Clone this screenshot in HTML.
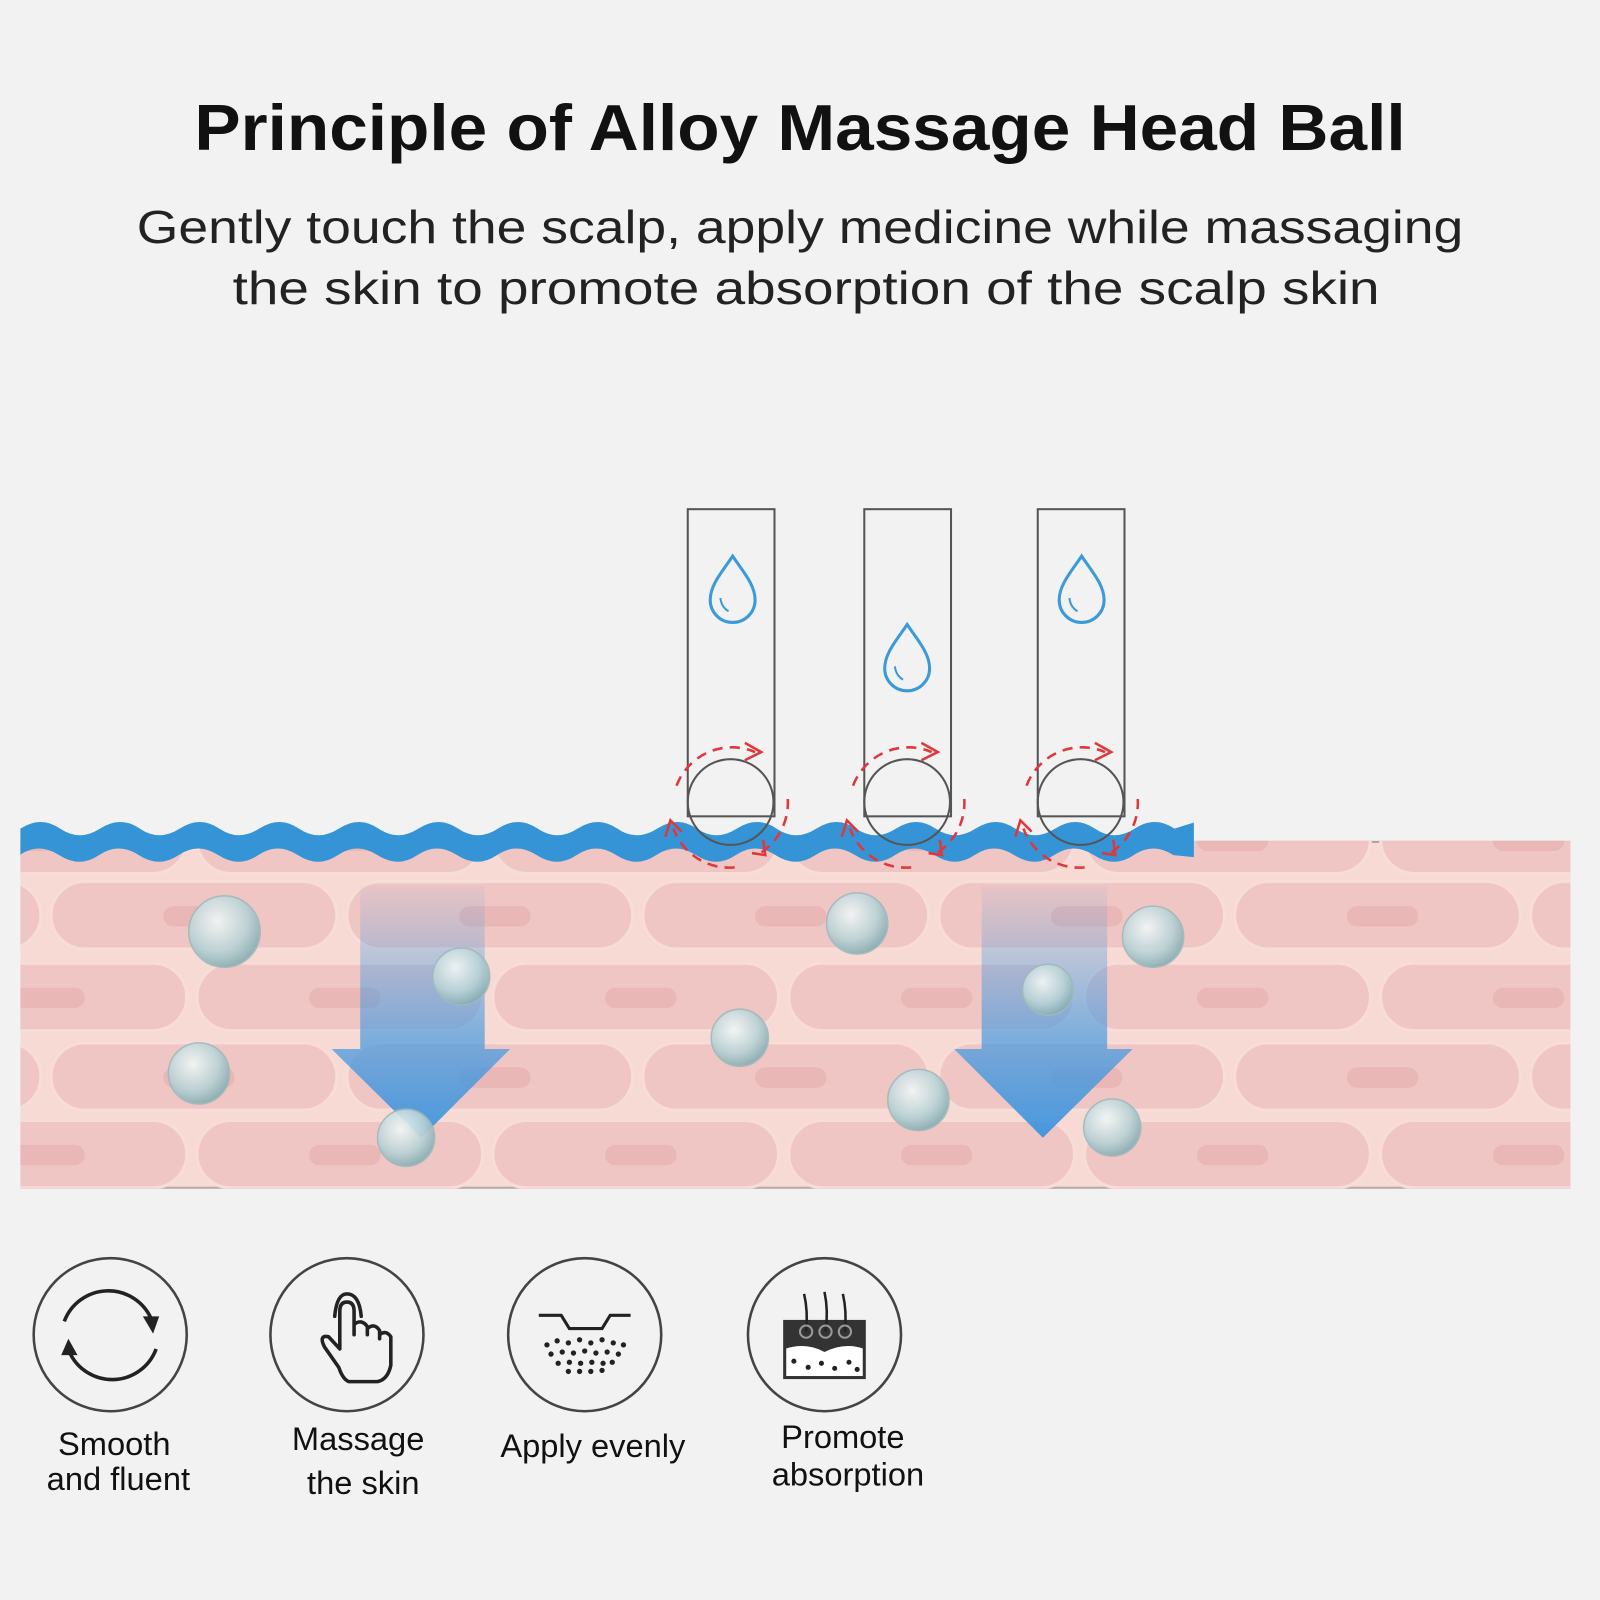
<!DOCTYPE html>
<html><head><meta charset="utf-8"><style>
html,body{margin:0;padding:0;background:#f2f2f2;}
svg{display:block}
</style></head><body>
<svg width="1600" height="1600" viewBox="0 0 1568 1568" xmlns="http://www.w3.org/2000/svg">
<defs>
<clipPath id="skin"><rect x="20" y="824" width="1519" height="341"/></clipPath>
<g id="pill">
  <rect x="0" y="0" width="280" height="66" rx="33" fill="#efc6c4" stroke="#f7dcd8" stroke-width="3"/>
  <rect x="110" y="24" width="70" height="20" rx="10" fill="#e6b1b1" opacity="0.7"/>
</g>
<linearGradient id="ag" x1="0" y1="0" x2="0" y2="1">
  <stop offset="0" stop-color="#4a9be0" stop-opacity="0.05"/>
  <stop offset="0.6" stop-color="#4a9be0" stop-opacity="0.7"/>
  <stop offset="1" stop-color="#3d94dd" stop-opacity="0.95"/>
</linearGradient>
<radialGradient id="bub" cx="0.4" cy="0.35" r="0.7">
  <stop offset="0" stop-color="#f4f8f8"/>
  <stop offset="0.6" stop-color="#b9d3d6"/>
  <stop offset="1" stop-color="#7fa7ad"/>
</radialGradient>
<g id="drop"><path d="M0,-33 C-10,-18 -22,-5 -22,10 A22,22 0 0 0 22,10 C22,-5 10,-18 0,-33 Z" fill="none" stroke="#3a9bd8" stroke-width="3"/><path d="M-12,8 Q-11,17 -4,21" fill="none" stroke="#3a9bd8" stroke-width="2"/></g>
</defs>

<rect width="1568" height="1568" fill="#f2f2f2"/>

<text x="784" y="147" text-anchor="middle" font-family="Liberation Sans, sans-serif" font-weight="bold" font-size="64" textLength="1187" lengthAdjust="spacingAndGlyphs" fill="#111">Principle of Alloy Massage Head Ball</text>
<text x="784" y="238" text-anchor="middle" font-family="Liberation Sans, sans-serif" font-size="45" textLength="1300" lengthAdjust="spacingAndGlyphs" fill="#222">Gently touch the scalp, apply medicine while massaging</text>
<text x="790" y="298" text-anchor="middle" font-family="Liberation Sans, sans-serif" font-size="45" textLength="1124" lengthAdjust="spacingAndGlyphs" fill="#222">the skin to promote absorption of the scalp skin</text>

<!-- skin -->
<rect x="20" y="824" width="1519" height="341" fill="#f6dad3"/>
<line x1="1170" y1="825" x2="1539" y2="825" stroke="#a8a0a0" stroke-width="2"/>
<line x1="20" y1="1164" x2="1539" y2="1164" stroke="#b8aaaa" stroke-width="2"/>
<g clip-path="url(#skin)">
  <g transform="translate(0,790)"><use href="#pill" x="-97"/><use href="#pill" x="193"/><use href="#pill" x="483"/><use href="#pill" x="773"/><use href="#pill" x="1063"/><use href="#pill" x="1353"/></g>
  <g transform="translate(0,864)"><use href="#pill" x="-240"/><use href="#pill" x="50"/><use href="#pill" x="340"/><use href="#pill" x="630"/><use href="#pill" x="920"/><use href="#pill" x="1210"/><use href="#pill" x="1500"/></g>
  <g transform="translate(0,944)"><use href="#pill" x="-97"/><use href="#pill" x="193"/><use href="#pill" x="483"/><use href="#pill" x="773"/><use href="#pill" x="1063"/><use href="#pill" x="1353"/></g>
  <g transform="translate(0,1022)"><use href="#pill" x="-240"/><use href="#pill" x="50"/><use href="#pill" x="340"/><use href="#pill" x="630"/><use href="#pill" x="920"/><use href="#pill" x="1210"/><use href="#pill" x="1500"/></g>
  <g transform="translate(0,1098)"><use href="#pill" x="-97"/><use href="#pill" x="193"/><use href="#pill" x="483"/><use href="#pill" x="773"/><use href="#pill" x="1063"/><use href="#pill" x="1353"/></g>
</g>

<!-- blue wave -->
<path d="M20,812 q20,-13 39,0 t39,0 t39,0 t39,0 t39,0 t39,0 t39,0 t39,0 t39,0 t39,0 t39,0 t39,0 t39,0 t39,0 t39,0 t39,0 t39,0 t39,0 t39,0 t39,0 t39,0 t39,0 t39,0 t39,0 t39,0 t39,0 t39,0 t39,0 t39,0 L1170,806 L1170,840 L1150,838 q-20,-13 -39,0 t-39,0 t-39,0 t-39,0 t-39,0 t-39,0 t-39,0 t-39,0 t-39,0 t-39,0 t-39,0 t-39,0 t-39,0 t-39,0 t-39,0 t-39,0 t-39,0 t-39,0 t-39,0 t-39,0 t-39,0 t-39,0 t-39,0 t-39,0 t-39,0 t-39,0 t-39,0 t-39,0 t-39,0 L20,838 Z" fill="#3594d6"/>

<!-- arrows -->
<path d="M353,868 L475,868 L475,1028 L500,1028 L413,1115 L325,1028 L353,1028 Z" fill="url(#ag)"/>
<path d="M962,868 L1085,868 L1085,1028 L1110,1028 L1022,1115 L935,1028 L962,1028 Z" fill="url(#ag)"/>

<!-- bubbles -->
<g stroke="#9fb9bc" stroke-width="1.5" opacity="0.9">
<circle cx="220" cy="913" r="35" fill="url(#bub)"/>
<circle cx="452" cy="957" r="28" fill="url(#bub)"/>
<circle cx="195" cy="1052" r="30" fill="url(#bub)"/>
<circle cx="398" cy="1115" r="28" fill="url(#bub)"/>
<circle cx="840" cy="905" r="30" fill="url(#bub)"/>
<circle cx="725" cy="1017" r="28" fill="url(#bub)"/>
<circle cx="900" cy="1078" r="30" fill="url(#bub)"/>
<circle cx="1027" cy="970" r="25" fill="url(#bub)"/>
<circle cx="1130" cy="918" r="30" fill="url(#bub)"/>
<circle cx="1090" cy="1105" r="28" fill="url(#bub)"/>
</g>

<!-- massage heads -->
<g fill="none" stroke="#555" stroke-width="2">
<rect x="674" y="499" width="85" height="301"/>
<rect x="847" y="499" width="85" height="301"/>
<rect x="1017" y="499" width="85" height="301"/>
<circle cx="716" cy="786" r="42"/>
<circle cx="889" cy="786" r="42"/>
<circle cx="1059" cy="786" r="42"/>
</g>
<use href="#drop" x="718" y="578"/>
<use href="#drop" x="889" y="645"/>
<use href="#drop" x="1060" y="578"/>

<!-- red dashed rotation -->
<g fill="none" stroke="#e0373a" stroke-width="2.5" stroke-dasharray="10,7">
<path d="M663,770 A58,58 0 0 1 740,737"/><path d="M772,783 A58,58 0 0 1 745,836"/><path d="M720,850 A58,58 0 0 1 660,812"/>
<path d="M836,770 A58,58 0 0 1 913,737"/><path d="M945,783 A58,58 0 0 1 918,836"/><path d="M893,850 A58,58 0 0 1 833,812"/>
<path d="M1006,770 A58,58 0 0 1 1083,737"/><path d="M1115,783 A58,58 0 0 1 1088,836"/><path d="M1063,850 A58,58 0 0 1 1003,812"/>
</g>
<g fill="none" stroke="#e0373a" stroke-width="2.5">
<path d="M730,728 L746,737 L730,745"/><path d="M903,728 L919,737 L903,745"/><path d="M1073,728 L1089,737 L1073,745"/>
<path d="M652,820 L657,804 L668,815"/><path d="M825,820 L830,804 L841,815"/><path d="M995,820 L1000,804 L1011,815"/>
<path d="M748,823 L750,838 L737,836"/><path d="M921,823 L923,838 L910,836"/><path d="M1091,823 L1093,838 L1080,836"/>
</g>

<!-- icons -->
<g fill="none" stroke="#444" stroke-width="2.5">
<circle cx="108" cy="1308" r="75"/>
<circle cx="340" cy="1308" r="75"/>
<circle cx="573" cy="1308" r="75"/>
<circle cx="808" cy="1308" r="75"/>
</g>
<g fill="none" stroke="#222" stroke-width="3.5">
<path d="M63,1295 A46,46 0 0 1 148,1292"/>
<path d="M153,1322 A46,46 0 0 1 68,1325"/>
</g>
<path d="M140,1290 L156,1290 L150,1307 Z" fill="#222"/>
<path d="M60,1328 L76,1328 L67,1312 Z" fill="#222"/>
<!-- hand -->
<g fill="none" stroke="#222" stroke-width="3.5" stroke-linejoin="round" stroke-linecap="round">
<path d="M332,1340 L318,1320 Q312,1308 322,1310 L333,1322 L333,1285 Q333,1276 340,1276 Q347,1276 347,1285 L347,1308 L347,1298 Q354,1292 360,1300 L360,1308 L360,1302 Q367,1296 372,1304 L372,1312 L372,1308 Q378,1303 383,1310 L383,1338 Q380,1352 370,1354 L342,1354 Q336,1352 332,1340 Z"/>
<path d="M328,1290 Q330,1268 340,1268 Q352,1268 354,1290"/>
</g>
<!-- apply evenly -->
<path d="M528,1289 L550,1289 L558,1302 L590,1302 L598,1289 L618,1289" fill="none" stroke="#222" stroke-width="3"/>
<g fill="#222">
<circle cx="536" cy="1318" r="2.6"/><circle cx="546" cy="1314" r="2.6"/><circle cx="557" cy="1316" r="2.6"/><circle cx="568" cy="1313" r="2.6"/><circle cx="579" cy="1316" r="2.6"/><circle cx="590" cy="1313" r="2.6"/><circle cx="601" cy="1316" r="2.6"/><circle cx="611" cy="1318" r="2.6"/>
<circle cx="540" cy="1327" r="2.6"/><circle cx="551" cy="1325" r="2.6"/><circle cx="562" cy="1326" r="2.6"/><circle cx="573" cy="1324" r="2.6"/><circle cx="584" cy="1326" r="2.6"/><circle cx="595" cy="1325" r="2.6"/><circle cx="606" cy="1327" r="2.6"/>
<circle cx="547" cy="1336" r="2.6"/><circle cx="558" cy="1335" r="2.6"/><circle cx="569" cy="1336" r="2.6"/><circle cx="580" cy="1335" r="2.6"/><circle cx="591" cy="1336" r="2.6"/><circle cx="600" cy="1335" r="2.6"/>
<circle cx="557" cy="1344" r="2.6"/><circle cx="568" cy="1344" r="2.6"/><circle cx="579" cy="1344" r="2.6"/><circle cx="590" cy="1343" r="2.6"/>
</g>
<!-- promote absorption -->
<rect x="769" y="1295" width="78" height="55" fill="#333"/>
<path d="M769,1322 Q790,1315 808,1325 Q828,1315 847,1322 L847,1350 L769,1350 Z" fill="#fff"/>
<rect x="769" y="1295" width="78" height="55" fill="none" stroke="#333" stroke-width="3"/>
<g fill="#222"><circle cx="778" cy="1334" r="2.5"/><circle cx="792" cy="1340" r="2.5"/><circle cx="805" cy="1336" r="2.5"/><circle cx="818" cy="1341" r="2.5"/><circle cx="832" cy="1335" r="2.5"/><circle cx="840" cy="1342" r="2.5"/></g>
<g fill="none" stroke="#222" stroke-width="2.5">
<path d="M788,1268 Q792,1285 790,1305"/><path d="M808,1266 Q812,1285 809,1305"/><path d="M826,1268 Q830,1285 828,1305"/>
</g>
<g fill="none" stroke="#999" stroke-width="2"><circle cx="790" cy="1305" r="6"/><circle cx="809" cy="1305" r="6"/><circle cx="828" cy="1305" r="6"/></g>

<g font-family="Liberation Sans, sans-serif" font-size="32" fill="#111" text-anchor="middle">
<text x="112" y="1426">Smooth</text>
<text x="116" y="1460">and fluent</text>
<text x="351" y="1421">Massage</text>
<text x="356" y="1464">the skin</text>
<text x="581" y="1428">Apply evenly</text>
<text x="826" y="1419">Promote</text>
<text x="831" y="1456">absorption</text>
</g>
</svg>
</body></html>
